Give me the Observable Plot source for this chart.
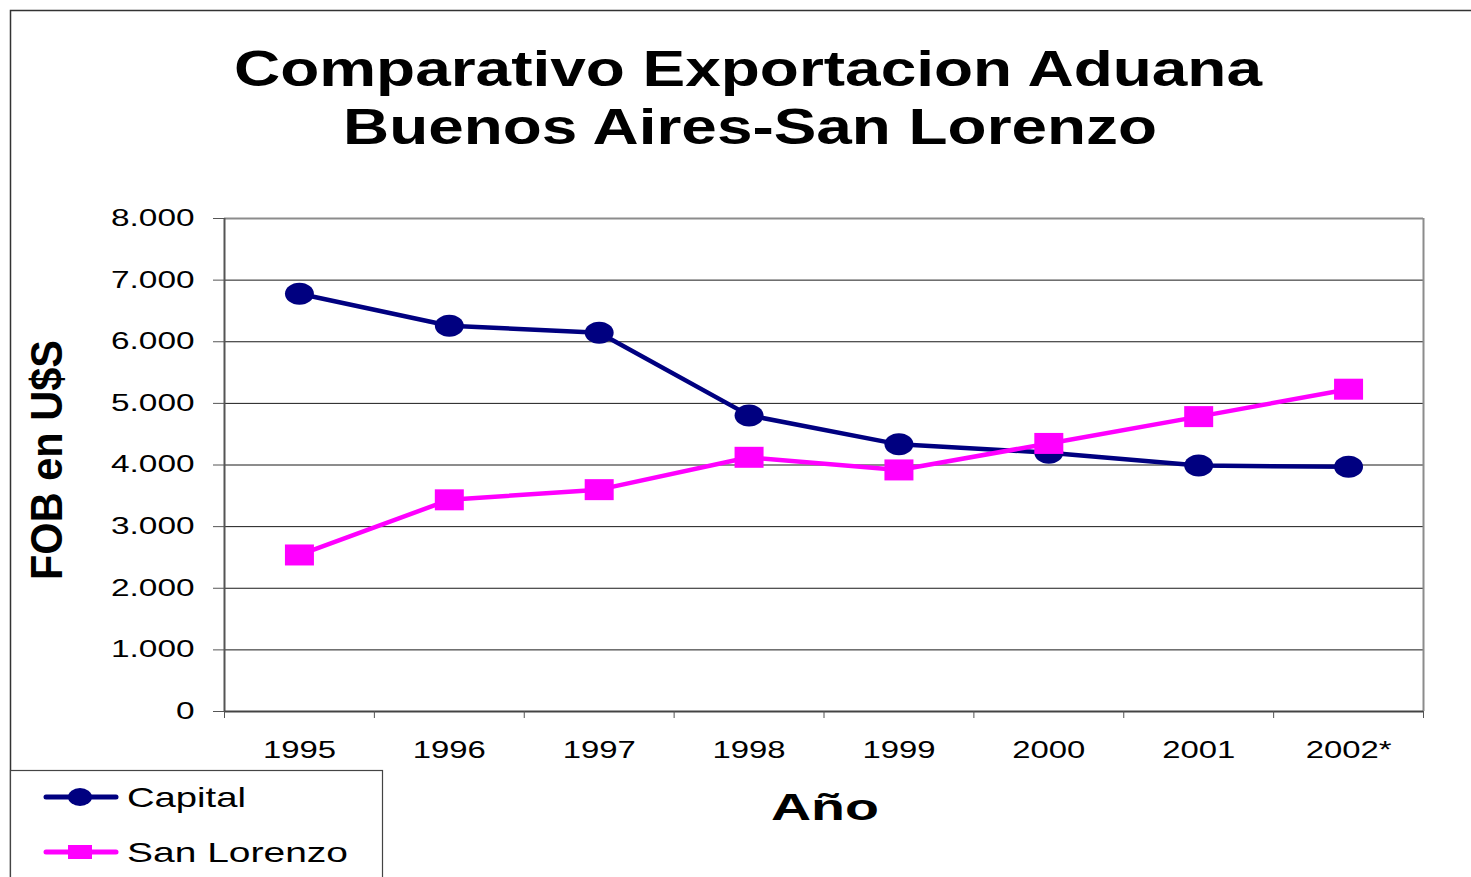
<!DOCTYPE html>
<html>
<head>
<meta charset="utf-8">
<script src="https://cdn.jsdelivr.net/npm/d3@7"></script>
<script src="https://cdn.jsdelivr.net/npm/@observablehq/plot@0.6"></script>
<style>
  html, body { margin: 0; padding: 0; background: #fff; }
  #wrap { position: relative; width: 1471px; height: 877px; overflow: hidden; background: #fff; }
  #wrap > svg { position: absolute; left: 0; top: 0; }
  #overlay { pointer-events: none; }
  text { font-family: "Liberation Sans", Arial, sans-serif; }
</style>
</head>
<body>
<div id="wrap"></div>
<script>
// ---- data ----
const years = ["1995", "1996", "1997", "1998", "1999", "2000", "2001", "2002*"];
const capital = [6780, 6260, 6145, 4805, 4335, 4200, 3990, 3970];
const sanLorenzo = [2540, 3435, 3600, 4125, 3920, 4350, 4785, 5230];
const seriesNames = ["Capital", "San Lorenzo"];
const seriesColors = ["#000080", "#FF00FF"];
const yTicks = [0, 1000, 2000, 3000, 4000, 5000, 6000, 7000, 8000];
const titleLines = ["Comparativo Exportacion Aduana", "Buenos Aires-San Lorenzo"];
const xLabel = "Año";
const yLabel = "FOB en U$S";

const idx = years.map((_, i) => i);
const rows = [
  ...idx.map(i => ({i, year: years[i], value: capital[i], serie: seriesNames[0]})),
  ...idx.map(i => ({i, year: years[i], value: sanLorenzo[i], serie: seriesNames[1]}))
];
const bounds = d3.range(-0.5, years.length, 1);

// custom marker shapes (ellipse and flat square, as in the original)
function ellipseSym(rx, ry) {
  const k = 0.5523;
  return {draw(ctx) {
    ctx.moveTo(rx, 0);
    ctx.bezierCurveTo(rx, ry * k, rx * k, ry, 0, ry);
    ctx.bezierCurveTo(-rx * k, ry, -rx, ry * k, -rx, 0);
    ctx.bezierCurveTo(-rx, -ry * k, -rx * k, -ry, 0, -ry);
    ctx.bezierCurveTo(rx * k, -ry, rx, -ry * k, rx, 0);
    ctx.closePath();
  }};
}
function rectSym(w, h) {
  return {draw(ctx) { ctx.rect(-w / 2, -h / 2, w, h); }};
}

const fmt = d => d3.format(",")(d).replace(/,/g, ".");

const chart = Plot.plot({
  width: 1471,
  height: 877,
  marginLeft: 224,
  marginRight: 48,
  marginTop: 218,
  marginBottom: 166,
  style: {fontFamily: "'Liberation Sans', Arial, sans-serif", background: "transparent", color: "#000"},
  x: {type: "linear", domain: [-0.5, years.length - 0.5], axis: null},
  y: {domain: [0, 8000], axis: null},
  marks: [
    Plot.gridY(yTicks, {stroke: "#1a1a1a", strokeOpacity: 1, strokeWidth: 1}),
    Plot.ruleY([8000], {stroke: "#8c8c8c", strokeWidth: 2}),
    Plot.ruleX([years.length - 0.5], {stroke: "#8c8c8c", strokeWidth: 2}),
    Plot.axisY(yTicks, {anchor: "left", tickSize: 11, tickPadding: 19, tickFormat: fmt, fontSize: 23, label: null, stroke: "#555"}),
    Plot.ruleX([-0.5], {stroke: "#555", strokeWidth: 2}),
    Plot.ruleY([0], {stroke: "#444", strokeWidth: 2}),
    Plot.axisX(bounds, {anchor: "bottom", tickSize: 7, tickFormat: () => "", label: null, stroke: "#555"}),
    Plot.axisX(idx, {anchor: "bottom", tickSize: 0, tickPadding: 29, tickFormat: i => years[i], fontSize: 24, label: null}),
    Plot.lineY(rows.filter(d => d.serie === seriesNames[0]), {x: "i", y: "value", stroke: seriesColors[0], strokeWidth: 4.5}),
    Plot.lineY(rows.filter(d => d.serie === seriesNames[1]), {x: "i", y: "value", stroke: seriesColors[1], strokeWidth: 4.5}),
    Plot.dot(rows.filter(d => d.serie === seriesNames[0]), {x: "i", y: "value", fill: seriesColors[0], stroke: "none", symbol: ellipseSym(14.5, 11), r: 10}),
    Plot.dot(rows.filter(d => d.serie === seriesNames[1]), {x: "i", y: "value", fill: seriesColors[1], stroke: "none", symbol: rectSym(29, 21), r: 10})
  ]
});

const wrap = document.getElementById("wrap");
wrap.appendChild(chart);

// overlay: frame, titles, axis titles, legend
const NS = "http://www.w3.org/2000/svg";
const ov = d3.select(wrap).append("svg")
  .attr("id", "overlay")
  .attr("xmlns", NS)
  .attr("width", 1471).attr("height", 877);

// outer chart-area frame (cropped on right and bottom)
ov.append("path").attr("d", "M10.5,877 V10.5 H1471").attr("fill", "none").attr("stroke", "#333").attr("stroke-width", 1.5);

const title = ov.append("text").attr("text-anchor", "middle").attr("font-weight", "bold").attr("font-size", 50).attr("fill", "#000");
title.append("tspan").attr("x", 748).attr("y", 86).attr("textLength", 1028).attr("lengthAdjust", "spacingAndGlyphs").text(titleLines[0]);
title.append("tspan").attr("x", 750).attr("y", 144).attr("textLength", 814).attr("lengthAdjust", "spacingAndGlyphs").text(titleLines[1]);

ov.append("text").attr("x", 825).attr("y", 820).attr("text-anchor", "middle").attr("font-weight", "bold")
  .attr("font-size", 36).attr("textLength", 108).attr("lengthAdjust", "spacingAndGlyphs").text(xLabel);

ov.append("text").attr("transform", "translate(62,460) rotate(-90)").attr("text-anchor", "middle").attr("font-weight", "bold")
  .attr("font-size", 44).attr("textLength", 240).attr("lengthAdjust", "spacingAndGlyphs").text(yLabel);

// legend
const lg = ov.append("g");
lg.append("rect").attr("x", 10.5).attr("y", 770.5).attr("width", 372).attr("height", 130).attr("fill", "#fff").attr("stroke", "#444").attr("stroke-width", 1.2);
const legendY = [797, 852];
const legendTextW = [119, 221];
seriesNames.forEach((name, k) => {
  const y = legendY[k];
  lg.append("line").attr("x1", 46).attr("x2", 116).attr("y1", y).attr("y2", y).attr("stroke", seriesColors[k]).attr("stroke-width", 5).attr("stroke-linecap", "round");
  if (k === 0) lg.append("ellipse").attr("cx", 80).attr("cy", y).attr("rx", 12).attr("ry", 9).attr("fill", seriesColors[k]);
  else lg.append("rect").attr("x", 68).attr("y", y - 7).attr("width", 24).attr("height", 14).attr("fill", seriesColors[k]);
  lg.append("text").attr("x", 127).attr("y", y + 10).attr("font-size", 28).attr("fill", "#000")
    .attr("textLength", legendTextW[k]).attr("lengthAdjust", "spacingAndGlyphs").text(name);
});

// widen tick labels like the original's stretched rendering
chart.querySelectorAll("text").forEach(t => {
  if (!t.textContent.trim()) return;
  const g = t.closest("g[aria-label]");
  const lab = g ? g.getAttribute("aria-label") : "";
  const k = lab.startsWith("y-axis") ? 1.45 : 1.37;
  const w = t.getComputedTextLength();
  t.setAttribute("textLength", (w * k).toFixed(1));
  t.setAttribute("lengthAdjust", "spacingAndGlyphs");
});
</script>
</body>
</html>
